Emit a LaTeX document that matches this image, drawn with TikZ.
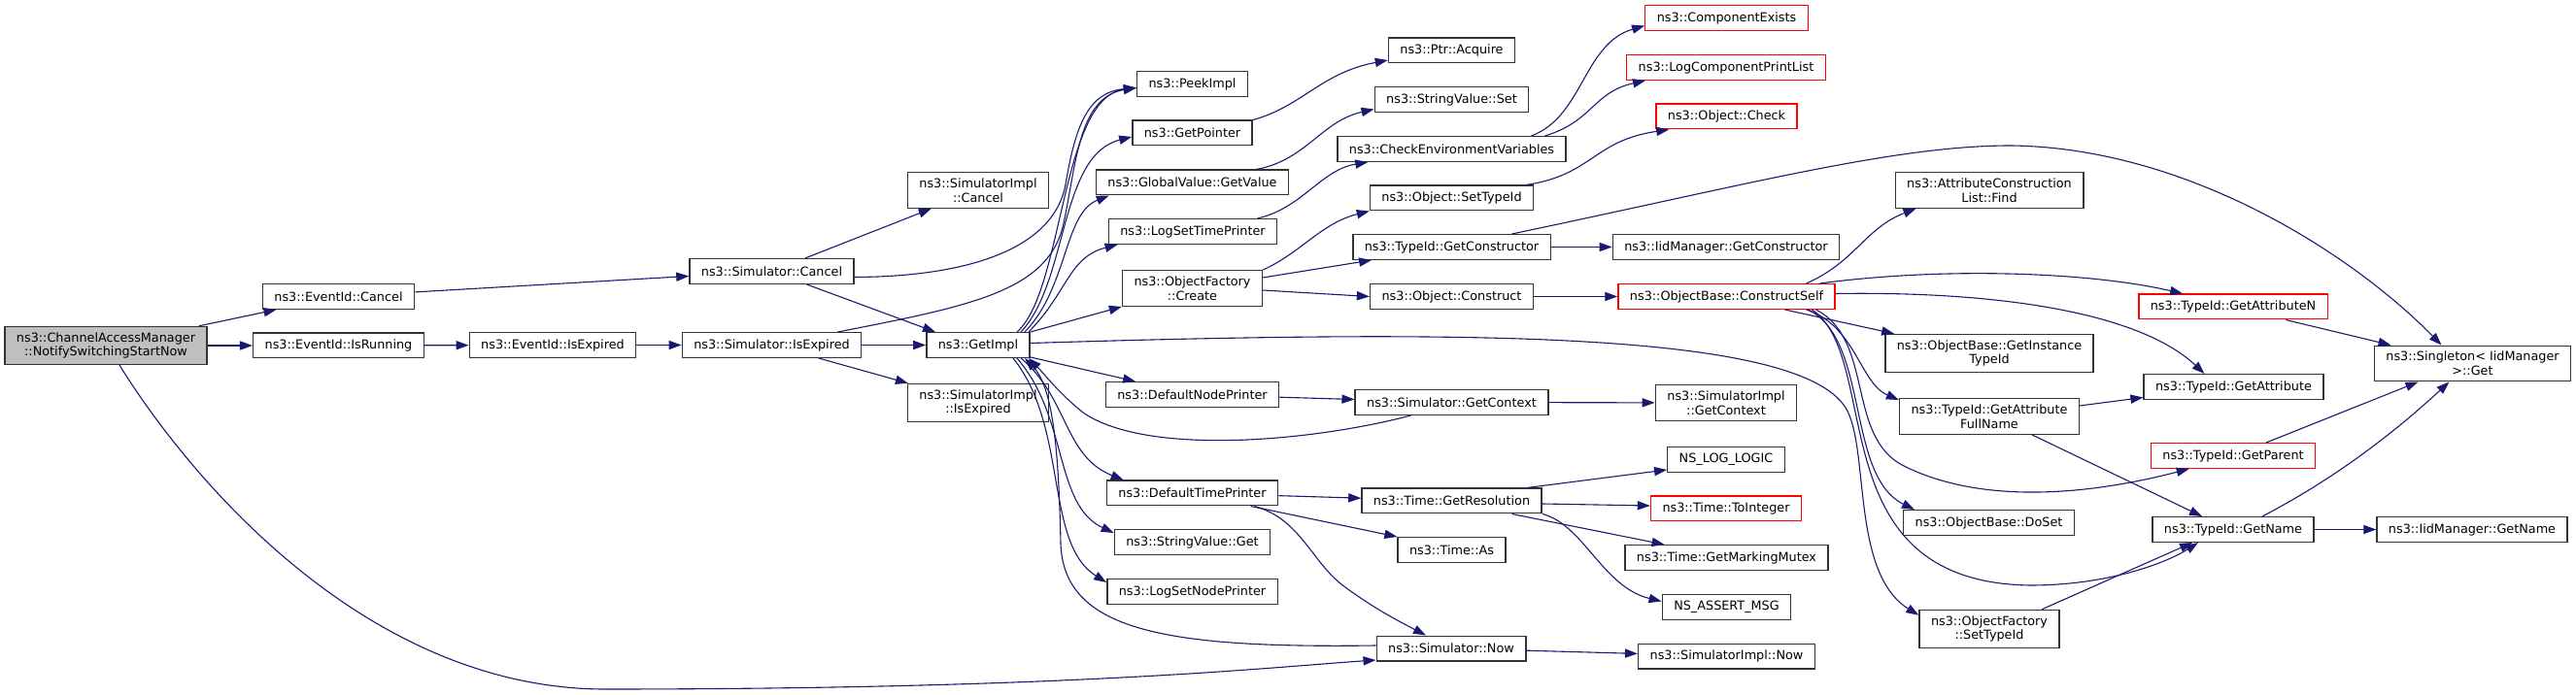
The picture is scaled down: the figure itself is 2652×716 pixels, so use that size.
\documentclass[tikz,border=0pt]{standalone}
\usepackage{fontspec}
\newfontfamily\dxfont{DejaVu Sans}
\usetikzlibrary{arrows.meta}
\definecolor{edgeblue}{HTML}{191970}
\definecolor{curgray}{HTML}{BFBFBF}

\begin{document}
\begin{tikzpicture}[x=0.5pt, y=-0.5pt,
    fn/.style={draw=black!80, line width=0.7pt, fill=white, align=center,
        font=\dxfont\fontsize{6.4}{7.3}\selectfont,
        inner xsep=6pt, inner ysep=3pt, minimum height=12.8pt},
    fnred/.style={fn, draw=red},
    fncur/.style={fn, fill=curgray},
    call/.style={draw=edgeblue, line width=0.55pt, -{Triangle[length=6.5pt, width=4.6pt]}}]
    \useasboundingbox (0,0) rectangle (2652,716);

    % entry function
    \node[fncur] (cam) at (109,356) {ns3::ChannelAccessManager\\::NotifySwitchingStartNow};

    % EventId
    \node[fn] (evCancel) at (348.5,305.5) {ns3::EventId::Cancel};
    \node[fn] (evRunning) at (348.5,356) {ns3::EventId::IsRunning};
    \node[fn] (evExpired) at (569,355.5) {ns3::EventId::IsExpired};

    % Simulator
    \node[fn] (simCancel) at (794.5,279.5) {ns3::Simulator::Cancel};
    \node[fn] (simExpired) at (794.5,355.5) {ns3::Simulator::IsExpired};
    \node[fn] (implCancel) at (1007,196) {ns3::SimulatorImpl\\::Cancel};
    \node[fn] (getImpl) at (1007,355.5) {ns3::GetImpl};
    \node[fn] (implExpired) at (1007,415) {ns3::SimulatorImpl\\::IsExpired};

    % called by GetImpl
    \node[fn] (peekImpl) at (1227.5,86.5) {ns3::PeekImpl};
    \node[fn] (getPointer) at (1227.5,137) {ns3::GetPointer};
    \node[fn] (gvGetValue) at (1227.5,188) {ns3::GlobalValue::GetValue};
    \node[fn] (logSetTime) at (1228,238.5) {ns3::LogSetTimePrinter};
    \node[fn] (ofCreate) at (1227.5,297) {ns3::ObjectFactory\\::Create};
    \node[fn] (defNode) at (1227.5,406.5) {ns3::DefaultNodePrinter};
    \node[fn] (defTime) at (1227.5,508) {ns3::DefaultTimePrinter};
    \node[fn] (svGet) at (1227.5,558.5) {ns3::StringValue::Get};
    \node[fn] (logSetNode) at (1227.5,609.5) {ns3::LogSetNodePrinter};

    % third column
    \node[fn] (ptrAcquire) at (1494.5,52) {ns3::Ptr::Acquire};
    \node[fn] (svSet) at (1494.5,102.5) {ns3::StringValue::Set};
    \node[fn] (checkEnv) at (1494.5,153.5) {ns3::CheckEnvironmentVariables};
    \node[fn] (objSetTid) at (1494.5,204) {ns3::Object::SetTypeId};
    \node[fn] (tidGetCtor) at (1494.5,254.5) {ns3::TypeId::GetConstructor};
    \node[fn] (objConstruct) at (1494.5,305.5) {ns3::Object::Construct};
    \node[fn] (simGetCtx) at (1494.5,414.5) {ns3::Simulator::GetContext};
    \node[fn] (timeRes) at (1494.5,516) {ns3::Time::GetResolution};
    \node[fn] (timeAs) at (1494.5,566.5) {ns3::Time::As};
    \node[fn] (simNow) at (1494,668) {ns3::Simulator::Now};

    % fourth column
    \node[fnred] (compExists) at (1777.5,18.5) {ns3::ComponentExists};
    \node[fnred] (logCompPrint) at (1777,69.5) {ns3::LogComponentPrintList};
    \node[fnred] (objCheck) at (1777.5,120) {ns3::Object::Check};
    \node[fn] (iidGetCtor) at (1777,254.5) {ns3::IidManager::GetConstructor};
    \node[fnred] (constructSelf) at (1777.5,305.5) {ns3::ObjectBase::ConstructSelf};
    \node[fn] (implGetCtx) at (1777,415) {ns3::SimulatorImpl\\::GetContext};
    \node[fn] (nsLogLogic) at (1777,473.5) {NS\_LOG\_LOGIC};
    \node[fnred] (toInteger) at (1777,524) {ns3::Time::ToInteger};
    \node[fn] (markingMutex) at (1777.5,574.5) {ns3::Time::GetMarkingMutex};
    \node[fn] (nsAssert) at (1777.5,625.5) {NS\_ASSERT\_MSG};
    \node[fn] (implNow) at (1777.5,676) {ns3::SimulatorImpl::Now};

    % fifth column
    \node[fn] (acFind) at (2048,196) {ns3::AttributeConstruction\\List::Find};
    \node[fn] (getInstTid) at (2048,364) {ns3::ObjectBase::GetInstance\\TypeId};
    \node[fn] (getAttrFull) at (2048,429) {ns3::TypeId::GetAttribute\\FullName};
    \node[fn] (doSet) at (2047.5,538.5) {ns3::ObjectBase::DoSet};
    \node[fn] (ofSetTid) at (2048,648) {ns3::ObjectFactory\\::SetTypeId};

    % TypeId
    \node[fnred] (getAttrN) at (2299,316) {ns3::TypeId::GetAttributeN};
    \node[fn] (getAttr) at (2299.5,398.5) {ns3::TypeId::GetAttribute};
    \node[fnred] (getParent) at (2299,469.5) {ns3::TypeId::GetParent};
    \node[fn] (getName) at (2299,545.5) {ns3::TypeId::GetName};

    % IidManager
    \node[fn] (singleton) at (2545.5,374.5) {ns3::Singleton< IidManager\\ >::Get};
    \node[fn] (iidGetName) at (2545,545.5) {ns3::IidManager::GetName};

    % calls of the entry function
    \draw[call] (cam) -- (evCancel);
    \draw[call] (cam) -- (evRunning);
    \draw[call] ([xshift=7pt]cam.south) .. controls (200,500) and (380,708) .. (620,710)
        .. controls (1100,710) and (1300,688) .. ([yshift=-6pt]simNow.west);

    % EventId and Simulator
    \draw[call] (evCancel) -- (simCancel);
    \draw[call] (evRunning) -- (evExpired);
    \draw[call] (evExpired) -- (simExpired);
    \draw[call] (simCancel) -- (implCancel);
    \draw[call] ([yshift=-3pt]simCancel.east) .. controls (1000,285) and (1085,255) .. (1097,190)
        .. controls (1107,130) and (1120,95) .. ([yshift=-2pt]peekImpl.west);
    \draw[call] ([xshift=18pt]simCancel.south) -- ([xshift=-22pt]getImpl.north);
    \draw[call] (simExpired) -- (getImpl);
    \draw[call] (simExpired) -- (implExpired);
    \draw[call] ([xshift=34pt]simExpired.north) .. controls (1000,315) and (1080,300) .. (1095,230)
        .. controls (1108,170) and (1110,100) .. ([yshift=-2pt]peekImpl.west);

    % GetImpl
    \draw[call] ([xshift=20pt]getImpl.north) .. controls (1095,300) and (1092,100) .. ([yshift=-2pt]peekImpl.west);
    \draw[call] ([xshift=22pt]getImpl.north) .. controls (1100,290) and (1090,160) .. ([yshift=-2pt]getPointer.west);
    \draw[call] ([xshift=24pt]getImpl.north) .. controls (1100,295) and (1095,220) .. ([xshift=7pt]gvGetValue.south west);
    \draw[call] ([xshift=26pt]getImpl.north) .. controls (1100,300) and (1100,265) .. ([xshift=5pt]logSetTime.south west);
    \draw[call] (getImpl.north east) -- (ofCreate.south west);
    \draw[call] ([yshift=1pt]getImpl.east) .. controls (1500,340) and (1850,340) .. (1900,420)
        .. controls (1925,460) and (1905,590) .. ([yshift=-3pt]ofSetTid.north west);
    \draw[call] (getImpl) -- (defNode);
    \draw[call] ([xshift=22pt]getImpl.south) .. controls (1100,410) and (1095,470) .. ([xshift=9pt]defTime.north west);
    \draw[call] ([xshift=20pt]getImpl.south) .. controls (1100,430) and (1085,520) .. ([yshift=-2pt]svGet.north west);
    \draw[call] ([xshift=18pt]getImpl.south) .. controls (1100,440) and (1075,560) .. ([yshift=-2pt]logSetNode.north west);
    \draw[call] ([xshift=-21pt]simGetCtx.south) .. controls (1350,455) and (1180,470) .. (1115,425)
        .. controls (1090,405) and (1075,385) .. ([xshift=26pt]getImpl.south);
    \draw[call] ([yshift=1.5pt]simNow.west) .. controls (1200,668) and (1095,650) .. (1092,560)
        .. controls (1090,470) and (1085,400) .. ([xshift=24pt]getImpl.south);

    % third column calls
    \draw[call] (getPointer.north east) .. controls (1340,110) and (1360,75) .. ([yshift=-5pt]ptrAcquire.west);
    \draw[call] ([xshift=-17pt]gvGetValue.north east) .. controls (1345,165) and (1360,125) .. ([yshift=-5pt]svSet.west);
    \draw[call] ([xshift=-10.5pt]logSetTime.north east) .. controls (1340,215) and (1360,175) .. ([xshift=16pt]checkEnv.south west);
    \draw[call] (ofCreate.north east) .. controls (1340,260) and (1360,230) .. (objSetTid.south west);
    \draw[call] ([yshift=5.5pt]ofCreate.east) -- ([xshift=10pt]tidGetCtor.south west);
    \draw[call] ([yshift=-1pt]ofCreate.east) -- (objConstruct.west);
    \draw[call] (defNode) -- (simGetCtx);
    \draw[call] (defTime) -- (timeRes);
    \draw[call] ([xshift=30pt]defTime.south) -- (timeAs.north west);
    \draw[call] ([xshift=32pt]defTime.south) .. controls (1340,535) and (1350,580) .. (1385,605)
        .. controls (1415,627) and (1440,640) .. ([xshift=-13pt]simNow.north);

    % fourth column calls
    \draw[call] ([xshift=41pt]checkEnv.north) .. controls (1630,120) and (1630,45) .. ([yshift=-4pt]compExists.west);
    \draw[call] ([xshift=48pt]checkEnv.north) .. controls (1640,125) and (1640,95) .. ([xshift=10pt]logCompPrint.south west);
    \draw[call] ([xshift=-4pt]objSetTid.north east) .. controls (1640,180) and (1640,145) .. ([xshift=7pt]objCheck.south west);
    \draw[call] (tidGetCtor) -- (iidGetCtor);
    \draw[call] ([xshift=31pt]tidGetCtor.north) .. controls (1800,190) and (1950,150) .. (2070,150)
        .. controls (2250,152) and (2420,260) .. ([xshift=-16pt]singleton.north);
    \draw[call] (objConstruct) -- (constructSelf);
    \draw[call] (simGetCtx) -- (implGetCtx);
    \draw[call] ([xshift=-8pt]timeRes.north east) -- ([yshift=1.5pt]nsLogLogic.south west);
    \draw[call] ([yshift=-1.5pt]timeRes.east) -- ([yshift=1.5pt]toInteger.west);
    \draw[call] ([xshift=31pt]timeRes.south) -- ([xshift=-32pt]markingMutex.north);
    \draw[call] (timeRes.south east) .. controls (1630,540) and (1650,605) .. ([yshift=3pt]nsAssert.west);
    \draw[call] (simNow) -- (implNow);

    % ConstructSelf
    \draw[call] ([xshift=41pt]constructSelf.north) .. controls (1910,270) and (1920,235) .. ([xshift=11pt]acFind.south west);
    \draw[call] ([xshift=48pt]constructSelf.north) .. controls (2000,275) and (2150,280) .. ([xshift=23pt]getAttrN.north west);
    \draw[call] ([yshift=1.5pt]constructSelf.east) .. controls (2050,300) and (2200,320) .. ([xshift=-15pt]getAttr.north);
    \draw[call] ([xshift=30pt]constructSelf.south) -- ([xshift=5pt]getInstTid.north west);
    \draw[call] ([xshift=41pt]constructSelf.south) .. controls (1910,335) and (1915,395) .. ([yshift=-1pt]getAttrFull.north west);
    \draw[call] ([xshift=42pt]constructSelf.south) .. controls (1925,350) and (1900,490) .. ([xshift=6pt]doSet.north west);
    \draw[call] ([xshift=44pt]constructSelf.south) .. controls (1940,370) and (1870,600) .. (2090,603)
        .. controls (2170,603) and (2230,580) .. ([xshift=-18pt]getName.south);
    \draw[call] ([xshift=46pt]constructSelf.south) .. controls (1930,350) and (1900,450) .. (1960,480)
        .. controls (2040,520) and (2150,510) .. ([xshift=20pt]getParent.south west);

    % TypeId and IidManager
    \draw[call] ([yshift=5.5pt]getAttrFull.east) -- ([yshift=-5.5pt]getAttr.west);
    \draw[call] ([xshift=22pt]getAttrFull.south) -- ([xshift=-16pt]getName.north);
    \draw[call] ([xshift=27pt]ofSetTid.north) -- ([xshift=-21pt]getName.south);
    \draw[call] ([xshift=27pt]getAttrN.south) -- ([xshift=-42pt]singleton.north);
    \draw[call] ([xshift=17pt]getParent.north) -- ([xshift=-28pt]singleton.south);
    \draw[call] ([xshift=15pt]getName.north) .. controls (2400,495) and (2460,450) .. ([xshift=-12pt]singleton.south);
    \draw[call] (getName) -- (iidGetName);
\end{tikzpicture}
\end{document}
